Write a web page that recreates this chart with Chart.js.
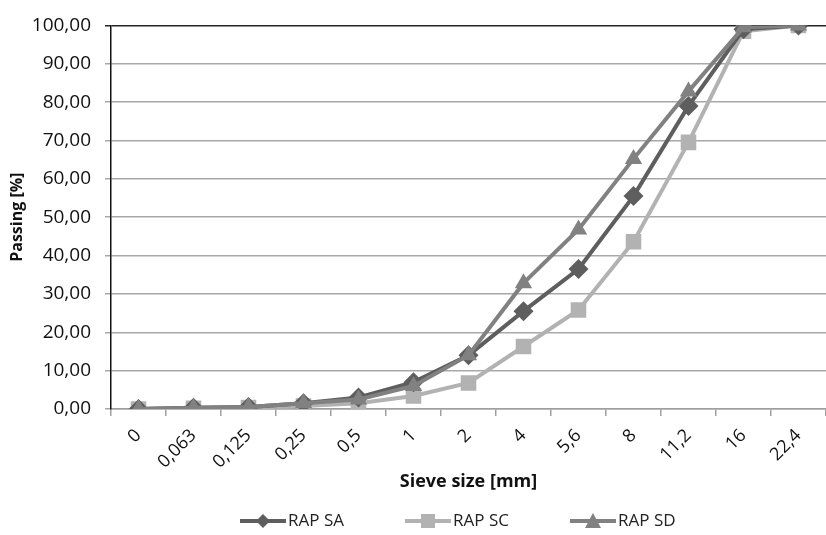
<!DOCTYPE html>
<html>
<head>
<meta charset="utf-8">
<script src="https://cdn.jsdelivr.net/npm/chart.js@4"></script>
<style>
  html, body { margin: 0; padding: 0; background: #fff; }
  #wrap { width: 826px; height: 535px; }
</style>
</head>
<body>
<div id="wrap"><canvas id="myChart" width="826" height="535"></canvas></div>
<script>
const sieveSizes = ["0", "0,063", "0,125", "0,25", "0,5", "1", "2", "4", "5,6", "8", "11,2", "16", "22,4"];
const rapSA = [0, 0.3, 0.5, 1.5, 3.0, 7.0, 14.0, 25.5, 36.5, 55.5, 79.0, 99.0, 100];
const rapSC = [0, 0.2, 0.4, 0.8, 1.5, 3.4, 6.8, 16.3, 25.8, 43.6, 69.5, 98.5, 100];
const rapSD = [0, 0.3, 0.5, 1.5, 2.5, 6.0, 14.0, 32.8, 46.8, 65.2, 82.8, 99.5, 100];

const font = "'Open Sans', 'Liberation Sans', sans-serif";

const series = [
  { label: "RAP SA", data: rapSA, color: "#5e5e5e", style: "rectRot", radius: 10, order: 1 },
  { label: "RAP SC", data: rapSC, color: "#b2b2b2", style: "rect", radius: 11, order: 2 },
  { label: "RAP SD", data: rapSD, color: "#818181", style: "triangle", radius: 10, order: 0 }
];

// plot area runs right to the edge of the picture
const fullRight = {
  id: "fullRight",
  afterLayout(chart) {
    const area = chart.chartArea, x = chart.scales.x;
    area.right = chart.width;
    area.width = area.right - area.left;
    x.right = chart.width;
    x.width = x.right - x.left;
    x.configure();
  }
};

// legend at the bottom: line sample with marker, then the name
const bottomLegend = {
  id: "bottomLegend",
  afterDraw(chart) {
    const ctx = chart.ctx;
    const y = 521, x = 240, step = 165, lineLen = 46;
    ctx.save();
    ctx.font = "17px " + font;
    ctx.textBaseline = "middle";
    series.forEach((s, i) => {
      const x0 = x + i * step;
      ctx.strokeStyle = s.color; ctx.lineWidth = 4;
      ctx.beginPath(); ctx.moveTo(x0, y); ctx.lineTo(x0 + lineLen, y); ctx.stroke();
      ctx.fillStyle = s.color;
      const cx = x0 + lineLen / 2;
      ctx.beginPath();
      if (s.style === "rectRot") { ctx.moveTo(cx, y - 7); ctx.lineTo(cx + 7, y); ctx.lineTo(cx, y + 7); ctx.lineTo(cx - 7, y); }
      else if (s.style === "rect") { ctx.rect(cx - 7, y - 7, 14, 14); }
      else { ctx.moveTo(cx, y - 8); ctx.lineTo(cx + 8, y + 7); ctx.lineTo(cx - 8, y + 7); }
      ctx.closePath(); ctx.fill();
      ctx.fillStyle = "#222";
      ctx.fillText(s.label, x0 + lineLen + 2, y);
    });
    ctx.restore();
  }
};

new Chart("myChart", {
  type: "line",
  data: {
    labels: sieveSizes,
    datasets: series.map(s => ({
      label: s.label,
      data: s.data,
      order: s.order,
      borderColor: s.color,
      backgroundColor: s.color,
      borderWidth: 4,
      pointStyle: s.style,
      pointRadius: s.radius,
      pointHoverRadius: s.radius,
      pointBorderWidth: 0,
      tension: 0
    }))
  },
  options: {
    responsive: false,
    animation: false,
    layout: { padding: { top: 21, right: 0, left: 0, bottom: 31 } },
    plugins: {
      title: { display: false },
      tooltip: { enabled: false },
      legend: { display: false }
    },
    scales: {
      x: {
        offset: true,
        afterFit: scale => { scale.paddingRight = 0; scale.height = 95; },
        border: { color: "#a0a0a0", width: 1.5 },
        grid: { offset: true, drawOnChartArea: false, drawTicks: true, tickLength: 7, color: "#a0a0a0", lineWidth: 1.5 },
        ticks: { minRotation: 45, maxRotation: 45, color: "#111", font: { family: font, size: 18 }, padding: 9 },
        title: { display: true, text: "Sieve size [mm]", color: "#111", font: { family: font, size: 18, weight: "bold" }, padding: { top: 0, bottom: 11 } }
      },
      y: {
        min: 0, max: 100,
        afterFit: scale => { scale.width = 111; },
        border: { color: "#111", width: 1.5 },
        grid: {
          color: ctx => ctx.tick && ctx.tick.value === 100 ? "#222" : "#a8a8a8",
          lineWidth: 1.5,
          tickLength: 6
        },
        ticks: {
          stepSize: 10,
          color: "#111",
          font: { family: font, size: 19 },
          padding: 14,
          callback: v => v.toFixed(2).replace(".", ",")
        },
        title: { display: true, text: "Passing [%]", color: "#111", font: { family: font, size: 16, weight: "bold" }, padding: { top: 8, bottom: 0 } }
      }
    }
  },
  plugins: [fullRight, bottomLegend]
});
</script>
</body>
</html>
